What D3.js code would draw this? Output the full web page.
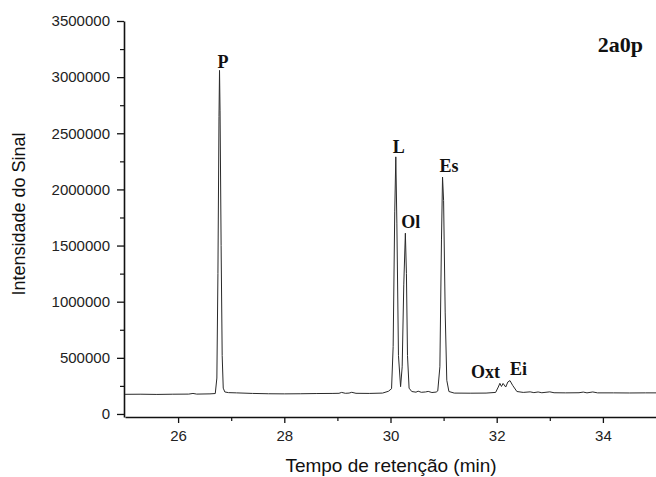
<!DOCTYPE html>
<html lang="pt">
<head>
<meta charset="UTF-8" />
<title>2a0p</title>
<style>
  body { margin: 0; background: #fff; }
  svg text { font-family: "Liberation Sans", Arial, sans-serif; }
  .tick text { font-size: 15px; fill: #222; }
  .peak { font-family: "Liberation Serif", "Times New Roman", serif !important; font-weight: bold; fill: #111; }
</style>
</head>
<body>
<svg id="svg" width="656" height="477"></svg>
<script src="https://d3js.org/d3.v7.min.js"></script>
<script>
// retention time (min) and signal intensity
const times = [
  25.00, 25.30, 25.60, 25.90, 26.20, 26.28, 26.35, 26.60, 26.70,
  26.73, 26.75, 26.77, 26.78, 26.79, 26.81, 26.83, 26.85, 26.88, 26.95,
  27.10, 27.40, 27.70, 28.00, 28.30, 28.60, 28.90, 29.03, 29.08, 29.15,
  29.22, 29.27, 29.35, 29.60, 29.85, 29.96, 30.02, 30.05, 30.08, 30.10,
  30.12, 30.15, 30.19, 30.22, 30.25, 30.28, 30.30, 30.32, 30.35, 30.40,
  30.48, 30.52, 30.58, 30.66, 30.71, 30.78, 30.86, 30.89, 30.93, 30.96,
  30.98, 31.00, 31.03, 31.06, 31.10, 31.20, 31.50, 31.80, 31.98, 32.03,
  32.06, 32.09, 32.12, 32.17, 32.21, 32.25, 32.30, 32.38, 32.50, 32.63,
  32.70, 32.78, 32.85, 33.00, 33.08, 33.30, 33.55, 33.63, 33.70, 33.81,
  33.90, 34.20, 34.50, 34.80, 35.00
];
const intensity = [
  175000, 176000, 174000, 176000, 177000, 183000, 177000, 179000, 182000,
  320000, 1250000, 2650000, 3060000, 2700000, 1500000, 520000, 230000, 196000, 190000,
  188000, 183000, 180000, 179000, 180000, 182000, 183000, 184000, 192000, 184000,
  186000, 193000, 184000, 183000, 186000, 202000, 225000, 600000, 1800000, 2290000,
  1700000, 520000, 243000, 420000, 1150000, 1610000, 1250000, 520000, 230000, 200000,
  194000, 203000, 193000, 196000, 201000, 191000, 195000, 205000, 420000, 1550000,
  2110000, 1900000, 900000, 300000, 200000, 186000, 185000, 186000, 192000, 240000,
  273000, 245000, 272000, 240000, 285000, 297000, 255000, 200000, 192000, 197000,
  190000, 196000, 189000, 197000, 189000, 188000, 189000, 195000, 188000, 196000,
  188000, 188000, 187000, 188000, 188000
];

const yTicks = [0, 500000, 1000000, 1500000, 2000000, 2500000, 3000000, 3500000];
const xTicks = [26, 28, 30, 32, 34];

const peakNames = ["P", "L", "Ol", "Es", "Oxt", "Ei"];
const peakTimes = [26.78, 30.10, 30.28, 30.98, 32.06, 32.25];
const peakLabelY = [3085000, 2324000, 1656000, 2155000, 320000, 347000];

const data = times.map((t, i) => ({ t: t, v: intensity[i] }));

const svg = d3.select('#svg');

const x = d3.scaleLinear().domain([25, 35]).range([125, 656]);
const y = d3.scaleLinear().domain([-27000, 3500000]).range([417, 21]);

// y axis
svg.append('g')
  .attr('transform', 'translate(124,0)')
  .call(d3.axisLeft(y).tickValues(yTicks).tickFormat(d3.format('d')).tickSize(7).tickSizeOuter(0))
  .call(g => g.select('.domain').attr('stroke', '#111').attr('stroke-width', 1.6))
  .call(g => g.selectAll('.tick line').attr('stroke', '#111').attr('stroke-width', 1.3))
  .call(g => g.selectAll('.tick text').attr('dx', '-4px'));

svg.append('g')
  .attr('transform', 'translate(124,0)')
  .call(d3.axisLeft(y).tickValues(d3.range(250000, 3500000, 500000)).tickFormat('').tickSize(4).tickSizeOuter(0))
  .call(g => g.select('.domain').remove())
  .call(g => g.selectAll('.tick line').attr('stroke', '#111').attr('stroke-width', 1.2));

// x axis
svg.append('g')
  .attr('transform', 'translate(0,417)')
  .call(d3.axisBottom(x).tickValues(xTicks).tickSize(6).tickSizeOuter(0))
  .call(g => g.select('.domain').attr('stroke', '#111').attr('stroke-width', 1.6))
  .call(g => g.selectAll('.tick line').attr('stroke', '#111').attr('stroke-width', 1.3))
  .call(g => g.selectAll('.tick text').attr('dy', '1.0em'));

svg.append('g')
  .attr('transform', 'translate(0,417)')
  .call(d3.axisBottom(x).tickValues([27, 29, 31, 33]).tickFormat('').tickSize(4).tickSizeOuter(0))
  .call(g => g.select('.domain').remove())
  .call(g => g.selectAll('.tick line').attr('stroke', '#111').attr('stroke-width', 1.2));

// chromatogram trace
svg.append('path')
  .datum(data)
  .attr('fill', 'none')
  .attr('stroke', '#2a2a2a')
  .attr('stroke-width', 1)
  .attr('d', d3.line().x(d => x(d.t)).y(d => y(d.v)));

// peak labels
svg.selectAll('text.peak')
  .data(peakNames)
  .enter()
  .append('text')
  .attr('class', 'peak')
  .attr('x', (d, i) => x(peakTimes[i]))
  .attr('y', (d, i) => y(peakLabelY[i]))
  .attr('font-size', 18)
  .attr('text-anchor', (d, i) => i === 4 ? 'end' : 'start')
  .attr('dx', (d, i) => [-2, -3, -4, -3, 0, 0][i])
  .text(d => d);

svg.append('text')
  .attr('class', 'peak')
  .attr('x', 643)
  .attr('y', 52)
  .attr('text-anchor', 'end')
  .attr('font-size', 22)
  .text('2a0p');

// axis titles
svg.append('text')
  .attr('x', 391)
  .attr('y', 472)
  .attr('text-anchor', 'middle')
  .attr('font-size', 19)
  .attr('fill', '#111')
  .text('Tempo de retenção (min)');

svg.append('text')
  .attr('transform', 'translate(25,214) rotate(-90)')
  .attr('text-anchor', 'middle')
  .attr('font-size', 18)
  .attr('fill', '#111')
  .text('Intensidade do Sinal');
</script>
</body>
</html>
